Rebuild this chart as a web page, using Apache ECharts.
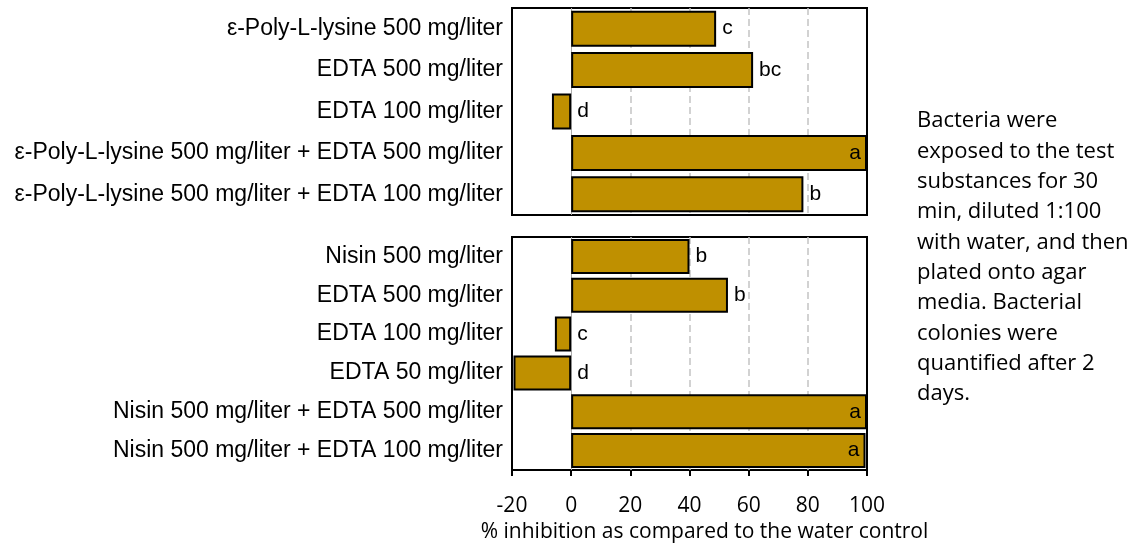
<!DOCTYPE html>
<html>
<head>
<meta charset="utf-8">
<script src="https://cdn.jsdelivr.net/npm/echarts@6/dist/echarts.min.js"></script>
<style>
  html, body { margin: 0; padding: 0; background: #fff; }
  #chart { width: 1145px; height: 550px; }
</style>
</head>
<body>
<div id="chart"></div>
<script>
// data
const topCats = [
  'ε-Poly-L-lysine 500 mg/liter',
  'EDTA 500 mg/liter',
  'EDTA 100 mg/liter',
  'ε-Poly-L-lysine 500 mg/liter + EDTA 500 mg/liter',
  'ε-Poly-L-lysine 500 mg/liter + EDTA 100 mg/liter'
]
const topVals = [49, 61.5, -6.5, 100, 78.5]
const topLetters = ['c', 'bc', 'd', 'a', 'b']

const botCats = [
  'Nisin 500 mg/liter',
  'EDTA 500 mg/liter',
  'EDTA 100 mg/liter',
  'EDTA 50 mg/liter',
  'Nisin 500 mg/liter + EDTA 500 mg/liter',
  'Nisin 500 mg/liter + EDTA 100 mg/liter'
]
const botVals = [40, 53, -5.5, -19.5, 100, 99.5]
const botLetters = ['b', 'b', 'c', 'd', 'a', 'a']

const xMin = -20
const xMax = 100
const xStep = 20
const gridVals = [20, 40, 60, 80]

const noteLines = [
  'Bacteria were',
  'exposed to the test',
  'substances for 30',
  'min, diluted 1:100',
  'with water, and then',
  'plated onto agar',
  'media. Bacterial',
  'colonies were',
  'quantified after 2',
  'days.'
]

const barColor = '#BF9000'
const catFont = 'Liberation Sans, Arial, sans-serif'
const numFont = 'Open Sans, sans-serif'

const chart = echarts.init(document.getElementById('chart'))

const makeX = (idx, withLabels) => ({
  type: 'value',
  gridIndex: idx,
  min: xMin,
  max: xMax,
  interval: xStep,
  axisLine: { show: withLabels, lineStyle: { color: '#000', width: 2 } },
  axisTick: { show: withLabels, length: 6, lineStyle: { color: '#000', width: 2 } },
  axisLabel: {
    show: withLabels,
    color: '#000',
    fontFamily: numFont,
    fontSize: 21,
    margin: 26
  },
  splitLine: { show: false },
  name: withLabels ? '% inhibition as compared to the water control' : '',
  nameLocation: 'middle',
  nameGap: 52,
  nameTextStyle: {
    color: '#000',
    fontFamily: numFont,
    fontSize: 21,
    padding: [0, 0, 0, 30]
  }
})

const makeY = (idx, cats) => ({
  type: 'category',
  gridIndex: idx,
  data: cats,
  inverse: true,
  axisLine: { show: false },
  axisTick: { show: false },
  axisLabel: {
    color: '#000',
    fontFamily: catFont,
    fontSize: 23,
    margin: 9
  }
})

const makeBars = (idx, vals, gap) => ({
  type: 'bar',
  xAxisIndex: idx,
  yAxisIndex: idx,
  data: vals,
  barCategoryGap: gap,
  itemStyle: { color: barColor, borderColor: '#000', borderWidth: 2 },
  silent: true,
  // dashed grid lines behind the bars, thin zero line
  markLine: {
    silent: true,
    z: 1,
    symbol: 'none',
    label: { show: false },
    data: gridVals.map(v => ({
      xAxis: v,
      lineStyle: { color: '#c4c4c4', width: 1.5, type: [7, 4] }
    })).concat([{ xAxis: 0, lineStyle: { color: '#aaa', width: 1, type: 'solid' } }])
  }
})

// letters sit just right of the bar end (or of 0 for negative bars), inside for full bars
const makeLetters = (idx, vals, cats, letters) => ({
  type: 'scatter',
  xAxisIndex: idx,
  yAxisIndex: idx,
  symbolSize: 0,
  z: 5,
  silent: true,
  itemStyle: { opacity: 1 },
  data: vals.map((v, i) => ({
    value: [Math.max(v, 0), cats[i]],
    label: { position: v >= 99 ? 'left' : 'right' }
  })),
  label: {
    show: true,
    distance: 6,
    color: '#000',
    fontFamily: catFont,
    fontSize: 21,
    formatter: p => letters[p.dataIndex]
  }
})

chart.setOption({
  animation: false,
  grid: [
    { left: 512, right: 278, top: 8, height: 207, show: true, borderColor: '#000', borderWidth: 2 },
    { left: 512, right: 278, top: 237, height: 233, show: true, borderColor: '#000', borderWidth: 2 }
  ],
  xAxis: [makeX(0, false), makeX(1, true)],
  yAxis: [makeY(0, topCats), makeY(1, botCats)],
  series: [
    makeBars(0, topVals, '13%'),
    makeBars(1, botVals, '10%'),
    makeLetters(0, topVals, topCats, topLetters),
    makeLetters(1, botVals, botCats, botLetters)
  ],
  graphic: [{
    type: 'text',
    left: 917,
    top: 106,
    style: {
      text: noteLines.join('\n'),
      fill: '#000',
      font: '22px ' + numFont,
      lineHeight: 30.3
    }
  }]
})
</script>
</body>
</html>
